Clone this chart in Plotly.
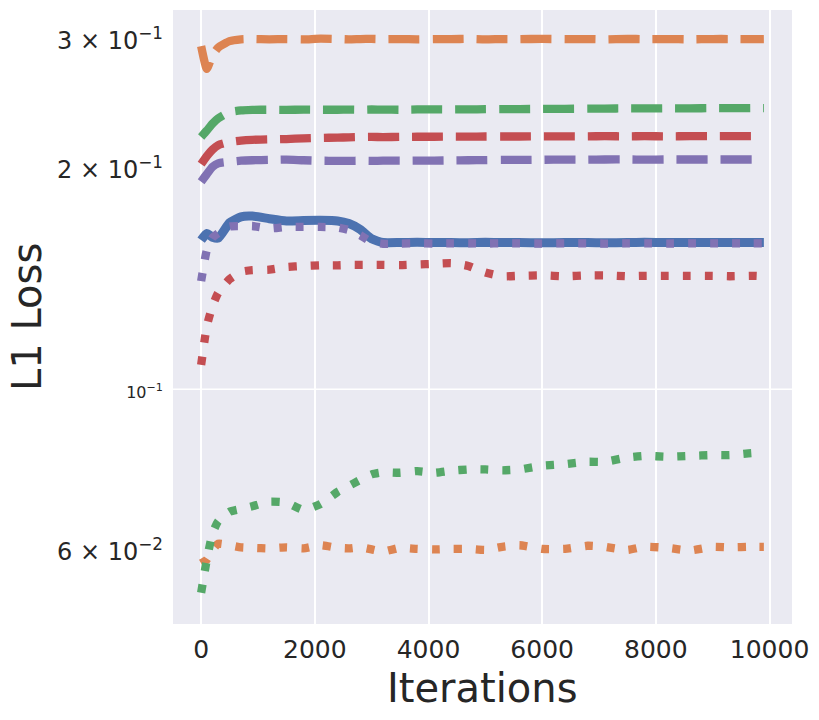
import plotly.graph_objects as go
import numpy as np

# 迭代步数（各曲线共用）
iterations = [0, 100, 200, 300, 500, 700, 900, 1200, 1500, 1800, 2100, 2400, 2600, 2800,
              3000, 3200, 3500, 3800, 4100, 4400, 4700, 5000, 5300, 5600, 6000, 6400,
              6800, 7100, 7500, 7800, 8200, 8600, 9000, 9300, 9700, 9900]

# 实线（蓝）
blue_solid = [0.160, 0.1634, 0.1615, 0.161, 0.169, 0.1722, 0.1726, 0.1712, 0.170, 0.1702,
              0.1703, 0.170, 0.1686, 0.1655, 0.1607, 0.1588, 0.1588, 0.1589, 0.1588, 0.1588,
              0.1587, 0.1589, 0.1588, 0.1588, 0.1587, 0.1588, 0.1588, 0.1587, 0.1588, 0.1589,
              0.1588, 0.1588, 0.1588, 0.1588, 0.1588, 0.1588]

# 虚线
orange_dash = [0.2948, 0.2745, 0.2865, 0.2935, 0.2995, 0.3012, 0.3015, 0.3012, 0.3015, 0.3012,
               0.3018, 0.3015, 0.3012, 0.3015, 0.3016, 0.3014, 0.3015, 0.3012, 0.3015, 0.3014,
               0.3016, 0.3012, 0.3015, 0.3014, 0.3016, 0.3014, 0.3015, 0.3012, 0.3016, 0.3014,
               0.3015, 0.3012, 0.3015, 0.3015, 0.3014, 0.3015]
green_dash = [0.2215, 0.226, 0.231, 0.2348, 0.2395, 0.2408, 0.2412, 0.2413, 0.2412, 0.2414,
              0.2413, 0.2413, 0.2414, 0.2413, 0.2415, 0.2414, 0.2413, 0.2415, 0.2416, 0.2415,
              0.2416, 0.2417, 0.2418, 0.2418, 0.2419, 0.242, 0.2421, 0.2422, 0.2423, 0.2423,
              0.2424, 0.2424, 0.2425, 0.2425, 0.2426, 0.2426]
red_dash = [0.2033, 0.2085, 0.2128, 0.2158, 0.218, 0.219, 0.2195, 0.2198, 0.22, 0.2205,
            0.2208, 0.221, 0.2212, 0.2214, 0.2215, 0.2214, 0.2215, 0.2216, 0.2216, 0.2217,
            0.2217, 0.2218, 0.2218, 0.2218, 0.2219, 0.2219, 0.2219, 0.222, 0.2219, 0.222,
            0.2219, 0.222, 0.222, 0.222, 0.222, 0.222]
purple_dash = [0.1923, 0.197, 0.2015, 0.2038, 0.2048, 0.2055, 0.2058, 0.206, 0.2062, 0.2058,
               0.2055, 0.2054, 0.2054, 0.2055, 0.2054, 0.2055, 0.2055, 0.2056, 0.2056, 0.2057,
               0.2058, 0.2059, 0.206, 0.206, 0.2061, 0.2062, 0.2062, 0.2063, 0.2063, 0.2062,
               0.2063, 0.2063, 0.2063, 0.2063, 0.2063, 0.2063]

# 点线
orange_dot = [0.0578, 0.0585, 0.0603, 0.0615, 0.0612, 0.0608, 0.0607, 0.0606, 0.0608, 0.0606,
              0.0612, 0.0607, 0.0606, 0.0608, 0.0604, 0.0600, 0.0607, 0.0605, 0.0604, 0.0605,
              0.0605, 0.0603, 0.0609, 0.0612, 0.0605, 0.0605, 0.0611, 0.0609, 0.0603, 0.0609,
              0.0607, 0.0602, 0.0609, 0.0608, 0.0609, 0.0609]
green_dot = [0.0527, 0.0585, 0.0635, 0.066, 0.068, 0.0686, 0.0692, 0.0702, 0.0700, 0.0684,
             0.0697, 0.0724, 0.0738, 0.0752, 0.0765, 0.077, 0.0769, 0.0773, 0.0769, 0.0774,
             0.0777, 0.0777, 0.0775, 0.0777, 0.0786, 0.079, 0.0796, 0.0796, 0.0807, 0.0811,
             0.0809, 0.0811, 0.0813, 0.0813, 0.0818, 0.0818]
red_dot = [0.108, 0.122, 0.130, 0.1355, 0.1415, 0.1448, 0.1456, 0.1458, 0.147, 0.1475,
           0.1478, 0.1478, 0.148, 0.148, 0.148, 0.148, 0.1479, 0.1482, 0.1485, 0.1488,
           0.1475, 0.1445, 0.1428, 0.143, 0.1432, 0.1428, 0.1432, 0.1432, 0.1428, 0.143,
           0.143, 0.143, 0.143, 0.1428, 0.143, 0.1428]
purple_dot = [0.1406, 0.155, 0.1612, 0.1635, 0.167, 0.1672, 0.1673, 0.166, 0.1668, 0.1668,
              0.1668, 0.1665, 0.1652, 0.1625, 0.159, 0.1582, 0.1583, 0.1584, 0.1583, 0.1584,
              0.1584, 0.1583, 0.1584, 0.1584, 0.1583, 0.1584, 0.1584, 0.1583, 0.1584, 0.1584,
              0.1583, 0.1584, 0.1584, 0.1584, 0.1584, 0.1584]

# 刻度
y_tickvals = [0.06, 0.1, 0.2, 0.3]
y_ticktext = ['6 × 10<sup>−2</sup>', "<span style='font-size:16px'>10<sup>−1</sup></span>",
              '2 × 10<sup>−1</sup>', '3 × 10<sup>−1</sup>']
x_tickvals = [0, 2000, 4000, 6000, 8000, 10000]
x_ticktext = ['0', '2000', '4000', '6000', '8000', '10000']

BLUE, ORANGE, GREEN, RED, PURPLE = '#4C72B0', '#DD8452', '#55A868', '#C44E52', '#8172B3'
TEXT = '#262626'
LW = 8.3
DASH = '31px,13px'
DOT = '8px,14px'

series = [
    (blue_solid, BLUE, 'solid', 9),
    (orange_dash, ORANGE, DASH, LW),
    (green_dash, GREEN, DASH, LW),
    (red_dash, RED, DASH, LW),
    (purple_dash, PURPLE, DASH, LW),
    (orange_dot, ORANGE, DOT, LW),
    (green_dot, GREEN, DOT, LW),
    (red_dot, RED, DOT, LW),
    (purple_dot, PURPLE, DOT, LW),
]

fig = go.Figure()
for ys, color, dash, w in series:
    fig.add_trace(go.Scatter(x=iterations, y=ys, mode='lines',
                             line=dict(color=color, width=w, dash=dash, shape='spline', smoothing=0.5),
                             showlegend=False))

# 只有 10^-1 有主网格线
fig.add_shape(type='line', xref='paper', x0=0, x1=1, yref='y', y0=0.1, y1=0.1,
              line=dict(color='white', width=1.5), layer='below')

# 轴标题
fig.add_annotation(text='Iterations', xref='paper', yref='paper', x=0.5, y=-0.104,
                   xanchor='center', yanchor='middle', showarrow=False,
                   font=dict(size=40, color=TEXT))
fig.add_annotation(text='L1 Loss', xref='paper', yref='paper', x=-0.236, y=0.5, textangle=-90,
                   xanchor='center', yanchor='middle', showarrow=False,
                   font=dict(size=40, color=TEXT))

fig.update_layout(
    width=819, height=720,
    margin=dict(l=173, r=27, t=10, b=96),
    paper_bgcolor='white', plot_bgcolor='#EAEAF2',
    font=dict(family='DejaVu Sans', color=TEXT),
)
fig.update_xaxes(range=[-495, 10395], tickvals=x_tickvals, ticktext=x_ticktext, showgrid=True,
                 gridcolor='white', gridwidth=1.5, zeroline=False, showline=False, ticks='',
                 automargin=False, ticklabelstandoff=8, tickfont=dict(size=25, color=TEXT))
fig.update_yaxes(type='log', range=[-1.321, -0.481], tickvals=y_tickvals, ticktext=y_ticktext,
                 showgrid=False, zeroline=False, showline=False, ticks='', automargin=False,
                 ticklabelstandoff=9, tickfont=dict(size=24, color=TEXT))

fig.write_html('out.html', config={'displayModeBar': False},
               post_script="document.body.style.margin='0px';")
